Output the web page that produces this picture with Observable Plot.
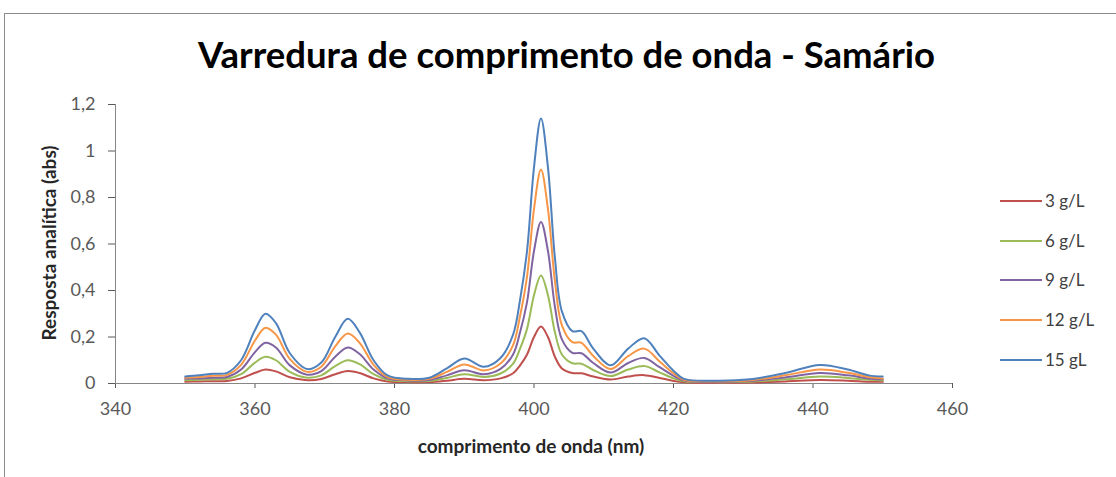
<!DOCTYPE html>
<html><head><meta charset="utf-8">
<script src="https://cdn.jsdelivr.net/npm/d3@7"></script>
<script src="https://cdn.jsdelivr.net/npm/@observablehq/plot@0.6"></script>
<style>
body{margin:0;background:#fff;font-family:Lato,"Open Sans",sans-serif;}
#wrap{position:relative;width:1116px;height:477px;overflow:hidden;background:#fff;}
#frame{position:absolute;left:4px;top:13px;width:1120px;height:470px;border-left:1px solid #8c8c8c;border-top:1px solid #8c8c8c;}
#chart{position:absolute;left:0;top:0;}
.t{position:absolute;white-space:nowrap;line-height:1;}
#title{left:0;width:1133px;top:36px;text-align:center;font-size:36.5px;font-weight:bold;color:#000;}
#xlab{left:0;width:1062px;top:436px;text-align:center;font-size:19px;font-weight:bold;color:#262626;}
#ylab{left:48px;top:243px;font-size:19px;font-weight:bold;color:#262626;transform:translate(-50%,-50%) rotate(-90deg);}
.leg{position:absolute;left:1000px;height:20px;}
.leg .ln{position:absolute;left:0;top:9px;width:42px;height:2px;}
.leg .tx{position:absolute;left:45px;top:0px;font-size:17px;color:#404040;white-space:nowrap;line-height:1.2;}
</style></head>
<body>
<div id="wrap">
<div id="frame"></div>
<div id="chart"></div>
<div class="t" id="title">Varredura de comprimento de onda - Samário</div>
<div class="t" id="xlab">comprimento de onda (nm)</div>
<div class="t" id="ylab">Resposta analítica (abs)</div>
<div id="legend"></div>
</div>
<script>
const wavelength = [350,352,354,356,358,360,361.5,363,365,367.5,369.5,371.5,373.3,375,377,379,382,385,387.5,390,392.8,395.2,397,398,399,400,401,402,403,404,405.5,406.8,408.5,411,413.5,415.8,418,420,421.5,426,431,436,441,445,448,450];

const s3 = [0.008,0.009,0.010,0.011,0.022,0.046,0.060,0.052,0.027,0.014,0.019,0.040,0.054,0.045,0.022,0.009,0.006,0.006,0.012,0.020,0.014,0.022,0.044,0.078,0.125,0.200,0.245,0.200,0.115,0.065,0.045,0.044,0.030,0.017,0.030,0.036,0.024,0.011,0.005,0.003,0.004,0.009,0.015,0.012,0.008,0.007];
const s6 = [0.014,0.016,0.018,0.020,0.040,0.090,0.115,0.100,0.050,0.025,0.035,0.075,0.100,0.083,0.040,0.016,0.010,0.011,0.024,0.040,0.028,0.043,0.085,0.150,0.235,0.380,0.465,0.380,0.220,0.125,0.087,0.085,0.058,0.032,0.060,0.075,0.048,0.022,0.010,0.006,0.008,0.018,0.030,0.024,0.016,0.013];
const s9 = [0.020,0.022,0.025,0.028,0.060,0.135,0.175,0.155,0.078,0.038,0.053,0.115,0.155,0.127,0.060,0.022,0.013,0.015,0.035,0.057,0.040,0.063,0.125,0.220,0.350,0.570,0.695,0.570,0.330,0.190,0.132,0.130,0.088,0.047,0.088,0.110,0.070,0.033,0.013,0.008,0.011,0.026,0.045,0.035,0.022,0.018];
const s12 = [0.025,0.028,0.033,0.037,0.080,0.185,0.240,0.210,0.105,0.050,0.072,0.160,0.215,0.175,0.080,0.028,0.016,0.020,0.050,0.082,0.056,0.086,0.165,0.290,0.460,0.750,0.920,0.750,0.440,0.250,0.178,0.175,0.118,0.062,0.118,0.150,0.095,0.044,0.016,0.010,0.014,0.035,0.060,0.046,0.028,0.022];
const s15 = [0.030,0.035,0.042,0.046,0.100,0.230,0.300,0.260,0.130,0.062,0.090,0.200,0.278,0.220,0.100,0.035,0.020,0.025,0.065,0.107,0.072,0.110,0.210,0.360,0.570,0.930,1.140,0.930,0.540,0.310,0.225,0.225,0.150,0.078,0.150,0.195,0.120,0.055,0.020,0.012,0.018,0.045,0.080,0.060,0.035,0.030];

const seriesNames = ["3 g/L","6 g/L","9 g/L","12 g/L","15 gL"];
const seriesValues = [s3,s6,s9,s12,s15];
const seriesColors = ["#C0504D","#9BBB59","#8064A2","#F79646","#4F81BD"];
const xTicks = [340,360,380,400,420,440,460];
const yTicks = [0,0.2,0.4,0.6,0.8,1,1.2];

const rows = [];
seriesNames.forEach((name,i)=>{
  wavelength.forEach((w,j)=>rows.push({name, w, v: seriesValues[i][j]}));
});

const chart = Plot.plot({
  width: 1116, height: 477,
  marginLeft: 115, marginRight: 164, marginTop: 104, marginBottom: 94,
  style: {fontFamily: "Lato, 'Open Sans', sans-serif", fontSize: "18px", color: "#595959", background: "transparent", overflow: "visible"},
  x: {domain: [340,460], ticks: xTicks, tickSize: 5, tickPadding: 14, label: null, tickFormat: d => String(d)},
  y: {domain: [0,1.2], ticks: yTicks, tickSize: 7, tickPadding: 13, label: null, tickFormat: d => String(+d.toFixed(1)).replace(".", ",")},
  color: {domain: seriesNames, range: seriesColors},
  marks: [
    Plot.ruleX([340], {stroke: "#868686", strokeWidth: 1}),
    Plot.ruleY([0], {stroke: "#868686", strokeWidth: 1}),
    Plot.line(rows, {x: "w", y: "v", z: "name", stroke: "name", strokeWidth: 2, curve: "catmull-rom"})
  ]
});
document.getElementById("chart").appendChild(chart);

const leg = document.getElementById("legend");
seriesNames.forEach((name,i)=>{
  const d = document.createElement("div");
  d.className = "leg";
  d.style.top = (191 + i*39.7) + "px";
  d.innerHTML = `<div class="ln" style="background:${seriesColors[i]}"></div><div class="tx">${name}</div>`;
  leg.appendChild(d);
});
</script>
</body></html>
